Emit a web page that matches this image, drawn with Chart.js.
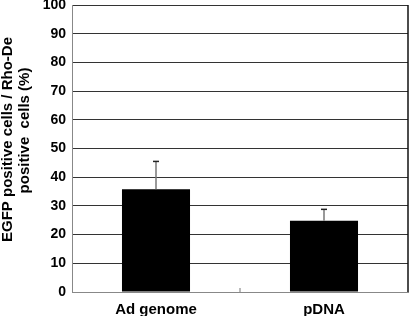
<!DOCTYPE html>
<html>
<head>
<meta charset="utf-8">
<script src="https://cdn.jsdelivr.net/npm/chart.js@4"></script>
<style>
  html, body { margin: 0; padding: 0; background: #fff; }
  #wrap { width: 410px; height: 316px; }
</style>
</head>
<body>
<div id="wrap"><canvas id="barChart" width="410" height="316"></canvas></div>
<script>
const categories = ["Ad genome", "pDNA"];
const means = [35.8, 24.8];
const errors = [9.7, 4.0];
const yTicks = [0, 10, 20, 30, 40, 50, 60, 70, 80, 90, 100];
const yTitle = ["EGFP positive cells / Rho-De", "positive  cells (%)"];

const FONT = "'Liberation Sans', Arial, sans-serif";

// error bars, middle tick, right frame line and the two-line y title
const extras = {
  id: "extras",
  afterDatasetsDraw(chart) {
    const ctx = chart.ctx;
    const y = chart.scales.y;
    const area = chart.chartArea;
    const bars = chart.getDatasetMeta(0).data;
    ctx.save();
    ctx.strokeStyle = "#777";
    ctx.lineWidth = 1.5;
    bars.forEach((bar, i) => {
      const top = y.getPixelForValue(means[i] + errors[i]);
      ctx.strokeStyle = "#777";
      ctx.beginPath();
      ctx.moveTo(bar.x, bar.y);
      ctx.lineTo(bar.x, top);
      ctx.stroke();
      ctx.strokeStyle = "#222";
      ctx.beginPath();
      ctx.moveTo(bar.x - 3, top);
      ctx.lineTo(bar.x + 3, top);
      ctx.stroke();
    });
    const mid = (bars[0].x + bars[1].x) / 2;
    ctx.strokeStyle = "#777";
    ctx.lineWidth = 1;
    ctx.beginPath();
    ctx.moveTo(mid, area.bottom);
    ctx.lineTo(mid, area.bottom - 4);
    ctx.stroke();
    ctx.strokeStyle = "#111";
    ctx.lineWidth = 1.5;
    ctx.beginPath();
    ctx.moveTo(area.right, area.top);
    ctx.lineTo(area.right, area.bottom);
    ctx.stroke();

    // title: first line a bit lower than the second, as in the original
    const cy = (area.top + area.bottom) / 2;
    ctx.fillStyle = "#000";
    ctx.font = "bold 15px " + FONT;
    ctx.textAlign = "center";
    ctx.textBaseline = "middle";
    [[8, cy - 9], [25, cy - 18]].forEach((p, i) => {
      ctx.save();
      ctx.translate(p[0], p[1]);
      ctx.rotate(-Math.PI / 2);
      ctx.fillText(yTitle[i], 0, 0);
      ctx.restore();
    });
    ctx.restore();
  }
};

new Chart(document.getElementById("barChart").getContext("2d"), {
  type: "bar",
  data: {
    labels: categories,
    datasets: [{
      data: means,
      backgroundColor: "#000",
      borderWidth: 0,
      categoryPercentage: 1,
      barPercentage: 0.405
    }]
  },
  options: {
    responsive: false,
    animation: false,
    devicePixelRatio: 1,
    layout: { padding: { top: 0, right: 2, bottom: 0, left: 0 } },
    plugins: { legend: { display: false }, tooltip: { enabled: false } },
    scales: {
      x: {
        grid: { display: false },
        border: { color: "#888", width: 1 },
        ticks: {
          color: "#000",
          padding: 1,
          font: { family: FONT, size: 15, weight: "bold" }
        },
        afterFit(scale) { scale.height = 24; }
      },
      y: {
        min: 0,
        max: 100,
        afterBuildTicks(scale) { scale.ticks = yTicks.map(v => ({ value: v })); },
        grid: { color: "#333", lineWidth: 1, drawTicks: false },
        border: { color: "#888", width: 1 },
        ticks: {
          color: "#000",
          padding: 6,
          font: { family: FONT, size: 14, weight: "bold" }
        },
        afterFit(scale) {
          scale.width = 72;
          scale.paddingTop = 5;
          scale.paddingBottom = 0;
        }
      }
    }
  },
  plugins: [extras]
});
</script>
</body>
</html>
